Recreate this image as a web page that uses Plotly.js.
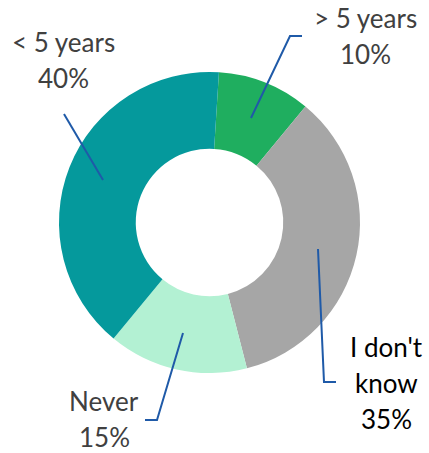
<!DOCTYPE html>
<html>
<head>
<meta charset="utf-8">
<script src="https://cdn.plot.ly/plotly-3.0.1.min.js"></script>
<style>html,body{margin:0;padding:0;background:#fff;}#chart{width:429px;height:453px;}</style>
</head>
<body>
<div id="chart"></div>
<script>
// Data
var categories = ["> 5 years", "I don't know", "Never", "< 5 years"];
var values = [10, 35, 15, 40];
var colors = ["#1fae5f", "#a6a6a6", "#b3f1d3", "#05999c"];
var labelColors = ["#404040", "#000000", "#404040", "#404040"];

var W = 429, H = 453;
function px(x) { return x / W; }
function py(y) { return 1 - y / H; }

// label layout (pixel positions: text centre x, first-line centre y, leader lines)
var labelPos = [
  {x: 365, y: 18, line: [[251,118],[290,36],[302,36]]},
  {x: 386, y: 347, line: [[318,249],[324,382],[336,382]]},
  {x: 104, y: 401, line: [[183,333],[157,420],[145,420]]},
  {x: 63, y: 42, line: [[103,180],[64,114]]}
];
var lineGap = 36;

var cx = 209.5, cy = 222.5, r = 150.5;

var trace = {
  type: 'pie',
  labels: categories,
  values: values,
  sort: false,
  direction: 'clockwise',
  rotation: 3.6,
  hole: 0.49,
  textinfo: 'none',
  marker: {colors: colors, line: {width: 0}},
  domain: {x: [px(cx - r), px(cx + r)], y: [py(cy + r), py(cy - r)]},
  showlegend: false,
  hoverinfo: 'label+percent'
};

var annotations = [];
categories.forEach(function (c, i) {
  var parts = (c === "I don't know" ? ["I don't", "know"] : [c]).concat([values[i] + '%']);
  parts.forEach(function (t, j) {
    annotations.push({
      xref: 'paper', yref: 'paper',
      x: px(labelPos[i].x), y: py(labelPos[i].y + j * lineGap),
      xanchor: 'center', yanchor: 'middle',
      text: t,
      showarrow: false,
      borderpad: 0,
      font: {family: 'Lato, sans-serif', size: 26, color: labelColors[i]}
    });
  });
});

var shapes = labelPos.map(function (p) {
  var d = p.line.map(function (pt, j) {
    return (j === 0 ? 'M' : 'L') + px(pt[0]) + ',' + py(pt[1]);
  }).join(' ');
  return {type: 'path', xref: 'paper', yref: 'paper', path: d,
          line: {color: '#1f5aa8', width: 2}};
});

var layout = {
  width: W, height: H,
  margin: {l: 0, r: 0, t: 0, b: 0},
  paper_bgcolor: '#ffffff',
  annotations: annotations,
  shapes: shapes
};

Plotly.newPlot('chart', [trace], layout, {displayModeBar: false, staticPlot: true});
</script>
</body>
</html>
